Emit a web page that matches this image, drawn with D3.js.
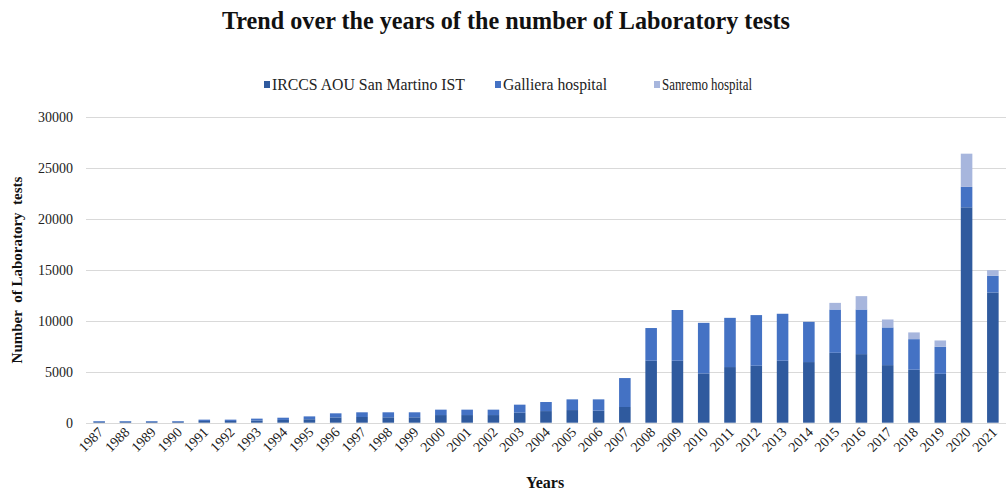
<!DOCTYPE html>
<html>
<head>
<meta charset="utf-8">
<script src="https://cdn.jsdelivr.net/npm/d3@7"></script>
<style>
  html, body { margin: 0; padding: 0; background: #fff; }
  svg { display: block; }
  svg text { font-family: "Liberation Serif", "Times New Roman", serif; }
</style>
</head>
<body>
<svg id="chart" width="1006" height="490"></svg>
<script>
const years = ["1987","1988","1989","1990","1991","1992","1993","1994","1995","1996","1997","1998","1999","2000","2001","2002","2003","2004","2005","2006","2007","2008","2009","2010","2011","2012","2013","2014","2015","2016","2017","2018","2019","2020","2021"];
const sanMartino = [90,90,90,90,170,170,220,270,340,520,560,530,530,750,750,750,980,1140,1240,1180,1540,6080,6080,4840,5460,5590,6080,5950,6860,6730,5650,5200,4800,21140,12780];
const galliera   = [70,70,70,70,130,130,180,220,280,400,460,490,490,530,530,530,790,890,1050,1110,2840,3210,4980,4960,4830,4970,4610,3950,4250,4380,3700,3000,2650,2000,1630];
const sanremo    = [0,0,0,0,0,0,0,0,0,0,0,0,0,0,0,0,0,0,0,0,0,0,0,0,0,0,0,0,650,1310,780,660,620,3260,560];
const seriesNames = ["IRCCS AOU San Martino IST", "Galliera hospital", "Sanremo hospital"];
const seriesColors = ["#2F5A9E", "#4472C4", "#A7B6DD"];
const yTicks = [0, 5000, 10000, 15000, 20000, 25000, 30000];

const FONT = "'Liberation Serif', 'Times New Roman', serif";
const svg = d3.select("#chart");

const rows = years.map((y, i) => ({ year: y, s0: sanMartino[i], s1: galliera[i], s2: sanremo[i] }));
const stacked = d3.stack().keys(["s0", "s1", "s2"])(rows);

const x = d3.scaleBand().domain(years).range([86, 1006]).paddingInner(0.56).paddingOuter(0.28);
const y = d3.scaleLinear().domain([0, 30000]).range([422.7, 117]);

// gridlines
svg.append("g").selectAll("line").data(yTicks).join("line")
  .attr("x1", 86).attr("x2", 1006)
  .attr("y1", d => Math.round(y(d)) + 0.5).attr("y2", d => Math.round(y(d)) + 0.5)
  .attr("stroke", "#d9d9d9").attr("stroke-width", 1);

// y tick labels
const yAxis = d3.axisLeft(y).tickValues(yTicks).tickSize(0).tickPadding(0).tickFormat(d3.format("d"));
const gy = svg.append("g").attr("transform", "translate(73,0)").call(yAxis);
gy.attr("font-family", FONT);
gy.select(".domain").remove();
gy.selectAll("text").attr("font-size", 14).attr("fill", "#222").attr("dy", "0.35em");

// bars
svg.append("g").selectAll("g").data(stacked).join("g")
  .attr("fill", (d, i) => seriesColors[i])
  .selectAll("rect").data(d => d).join("rect")
  .attr("x", d => x(d.data.year))
  .attr("width", x.bandwidth())
  .attr("y", d => y(d[1]))
  .attr("height", d => Math.max(0, y(d[0]) - y(d[1])));

// x axis
const xAxis = d3.axisBottom(x).tickSize(0).tickPadding(0);
const gx = svg.append("g").attr("transform", "translate(0,423)").call(xAxis);
gx.attr("font-family", FONT);
gx.select(".domain").remove();
gx.selectAll("text")
  .attr("font-size", 14).attr("fill", "#222")
  .attr("text-anchor", "end")
  .attr("dy", 0)
  .attr("transform", "translate(5,10) rotate(-45)");

// title
svg.append("text").attr("x", 506).attr("y", 29).attr("text-anchor", "middle")
  .attr("font-family", FONT)
  .attr("font-size", 25).attr("font-weight", "bold").attr("fill", "#111")
  .attr("textLength", 568).attr("lengthAdjust", "spacingAndGlyphs")
  .text("Trend over the years of the number of Laboratory tests");

// legend
const legendItems = [
  { x: 264, textX: 272, len: 193 },
  { x: 495, textX: 503, len: 104 },
  { x: 654, textX: 662, len: 90 }
];
const lg = svg.append("g");
legendItems.forEach((it, i) => {
  lg.append("rect").attr("x", it.x).attr("y", 81).attr("width", 6).attr("height", 7).attr("fill", seriesColors[i]);
  lg.append("text").attr("x", it.textX).attr("y", 90)
    .attr("font-family", FONT).attr("font-size", 17).attr("fill", "#222")
    .attr("textLength", it.len).attr("lengthAdjust", "spacingAndGlyphs")
    .text(seriesNames[i]);
});

// axis titles
svg.append("text").attr("transform", "translate(22,270) rotate(-90)").attr("text-anchor", "middle")
  .attr("font-family", FONT)
  .attr("font-size", 15).attr("font-weight", "bold").attr("fill", "#111")
  .attr("xml:space", "preserve")
  .text("Number  of Laboratory  tests");
svg.append("text").attr("x", 545).attr("y", 488).attr("text-anchor", "middle")
  .attr("font-family", FONT)
  .attr("font-size", 16).attr("font-weight", "bold").attr("fill", "#111").text("Years");
</script>
</body>
</html>
